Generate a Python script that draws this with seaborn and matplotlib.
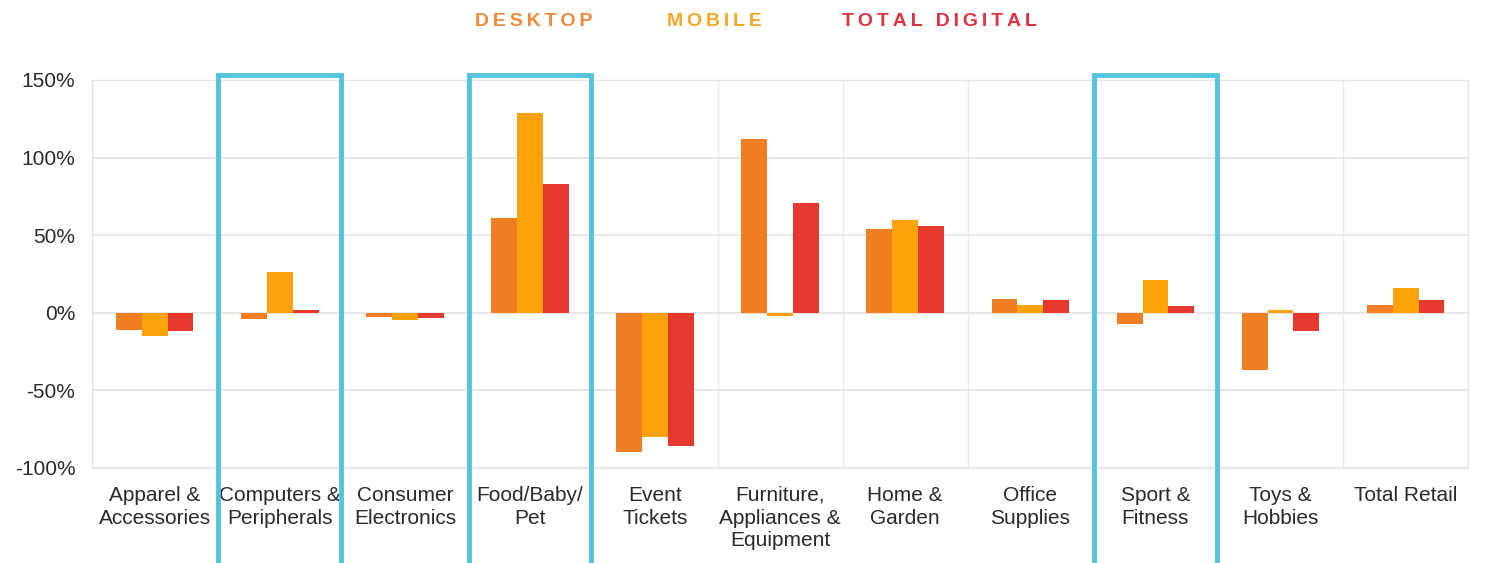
import numpy as np
import pandas as pd
import seaborn as sns
import matplotlib.pyplot as plt
import matplotlib.transforms as mtransforms
from matplotlib.patches import Rectangle

categories = [
    "Apparel &\nAccessories",
    "Computers &\nPeripherals",
    "Consumer\nElectronics",
    "Food/Baby/\nPet",
    "Event\nTickets",
    "Furniture,\nAppliances &\nEquipment",
    "Home &\nGarden",
    "Office\nSupplies",
    "Sport &\nFitness",
    "Toys &\nHobbies",
    "Total Retail",
]
desktop = [-11, -4, -3, 61, -90, 112, 54, 9, -7, -37, 5]
mobile = [-15, 26, -5, 129, -80, -2, 60, 5, 21, 2, 16]
total_digital = [-12, 2, -3.5, 83, -86, 71, 56, 8, 4, -12, 8]
series_names = ["DESKTOP", "MOBILE", "TOTAL DIGITAL"]
highlighted = ["Computers &\nPeripherals", "Food/Baby/\nPet", "Sport &\nFitness"]

colors = ["#F07E22", "#FFA10A", "#E5392F"]
label_colors = ["#EE8A3C", "#F5A726", "#DD3340"]

df = pd.DataFrame({
    "category": categories * 3,
    "series": np.repeat(series_names, len(categories)),
    "value": desktop + mobile + total_digital,
})

sns.set_theme(style="white")
plt.rcParams["font.family"] = ["Liberation Sans", "DejaVu Sans"]

fig = plt.figure(figsize=(14.86, 5.63), dpi=100)
ax = fig.add_axes([0.062, 0.169, 0.926, 0.689])

sns.barplot(
    data=df, x="category", y="value", hue="series",
    palette=colors, width=0.62, saturation=1, linewidth=0,
    ax=ax, legend=False,
)

ax.set_ylim(-100, 150)
ax.set_xlim(-0.5, len(categories) - 0.5)
ax.set_yticks([-100, -50, 0, 50, 100, 150])
ax.set_yticklabels([f"{v}%" for v in [-100, -50, 0, 50, 100, 150]], fontsize=15, color="#2A2A2A")
ax.set_xticks(range(len(categories)))
ax.set_xticklabels(categories, fontsize=15, color="#2A2A2A", linespacing=1.25)
ax.set_xticks(np.arange(-0.5, len(categories)), minor=True)
ax.tick_params(axis="both", which="both", length=0)
ax.tick_params(axis="x", pad=13)
ax.tick_params(axis="y", pad=12)
ax.set_xlabel("")
ax.set_ylabel("")

ax.grid(False)
ax.yaxis.grid(True, color="#E3E3E3", linewidth=1.2)
ax.xaxis.grid(True, which="minor", color="#EAEAEA", linewidth=1.0)
ax.set_axisbelow(True)
for sp in ax.spines.values():
    sp.set_color("#E6E6E6")
    sp.set_linewidth(1.0)

# highlight boxes
trans = mtransforms.blended_transform_factory(ax.transData, ax.transAxes)
for name in highlighted:
    i = categories.index(name)
    ax.add_patch(Rectangle(
        (i - 0.49, -0.4), 0.98, 1.413, transform=trans,
        fill=False, edgecolor="#52C4E0", linewidth=3.5, clip_on=False, zorder=5,
    ))

# legend at top
legend_x = [0.359, 0.481, 0.632]
for x, name, c in zip(legend_x, series_names, label_colors):
    fig.text(x, 0.962, "\u2009".join(name), ha="center", va="center",
             fontsize=14, fontweight="bold", color=c)

fig.savefig("out.png", dpi=100)
